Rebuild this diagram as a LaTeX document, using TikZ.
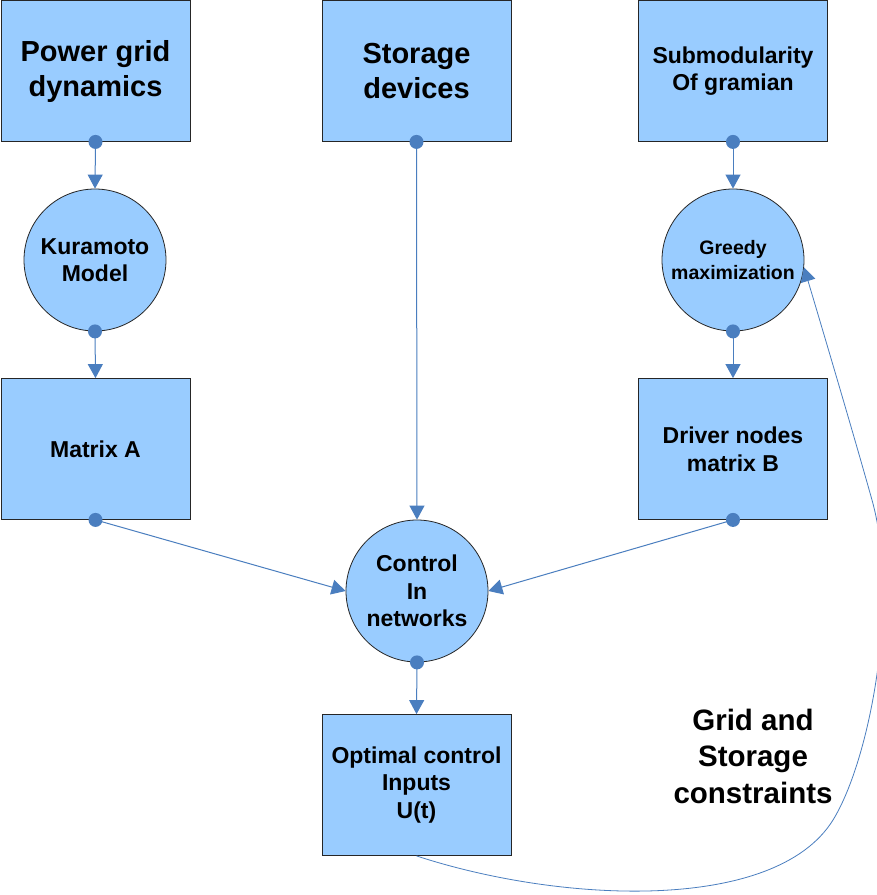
\documentclass[tikz,border=0pt]{standalone}
\usepackage{fontspec}
\setmainfont{Liberation Sans}
\usetikzlibrary{arrows.meta}
\definecolor{boxfill}{RGB}{153,204,255}
\definecolor{linkc}{RGB}{74,126,191}
\begin{document}
\begin{tikzpicture}[x=1pt,y=-1pt,
  box/.style={draw=black!85, line width=0.8pt, fill=boxfill, minimum width=189pt, minimum height=141pt, inner sep=0pt, align=center, font=\bfseries\fontsize{23}{27.6}\selectfont},
  bigtext/.style={font=\bfseries\fontsize{29}{35}\selectfont},
  circ/.style={circle, draw=black!85, line width=0.8pt, fill=boxfill, minimum size=142pt, inner sep=0pt, align=center, font=\bfseries\fontsize{23}{27.6}\selectfont},
  conn/.style={draw=linkc, line width=1pt, -{Triangle[width=15pt,length=14pt]}},
  dotmark/.style={fill=linkc}
]
\fill[white] (0,0) rectangle (877,895);
\useasboundingbox (0,0) rectangle (877,895);

\node[box,bigtext] (pg) at (95.5,71) {Power grid\\dynamics};
\node[box,bigtext] (sd) at (416.5,71) {Storage\\devices};
\node[box] (sm) at (733,71) {Submodularity\\Of gramian};
\node[circ] (km) at (95,260) {Kuramoto\\Model};
\node[circ, font=\bfseries\fontsize{19.5}{24.5}\selectfont] (gr) at (733,260) {Greedy\\maximization};
\node[box] (ma) at (95.5,449) {Matrix A};
\node[box] (db) at (733,449) {Driver nodes\\matrix B};
\node[circ] (cn) at (417,591) {Control\\In\\networks};
\node[box] (oc) at (416.5,785) {Optimal control\\Inputs\\U(t)};
\node[align=center, font=\bfseries\fontsize{29.5}{36.5}\selectfont] (gs) at (753,756) {Grid and\\Storage\\constraints};

\draw[conn] (pg.south) -- (km.north);
\draw[conn] (km.south) -- (ma.north);
\draw[conn] (sm.south) -- (gr.north);
\draw[conn] (gr.south) -- (db.north);
\draw[conn] (sd.south) -- (cn.north);
\draw[conn] (ma.south) -- (cn.west);
\draw[conn] (db.south) -- (cn.east);
\draw[conn] (cn.south) -- (oc.north);

\begin{scope}
\clip (0,0) rectangle (877,895);
\draw[conn, line width=0.8pt] (oc.south) .. controls (560,903) and (775,913.5) .. (833,820)
  .. controls (870,760) and (900,600) .. (872,500)
  .. controls (858,450) and (834,368) .. (gr.-6);
\end{scope}

\foreach \n in {pg,km,sm,gr,sd,ma,db,cn}
  \fill[dotmark] (\n.south) circle (7pt);
\end{tikzpicture}
\end{document}
